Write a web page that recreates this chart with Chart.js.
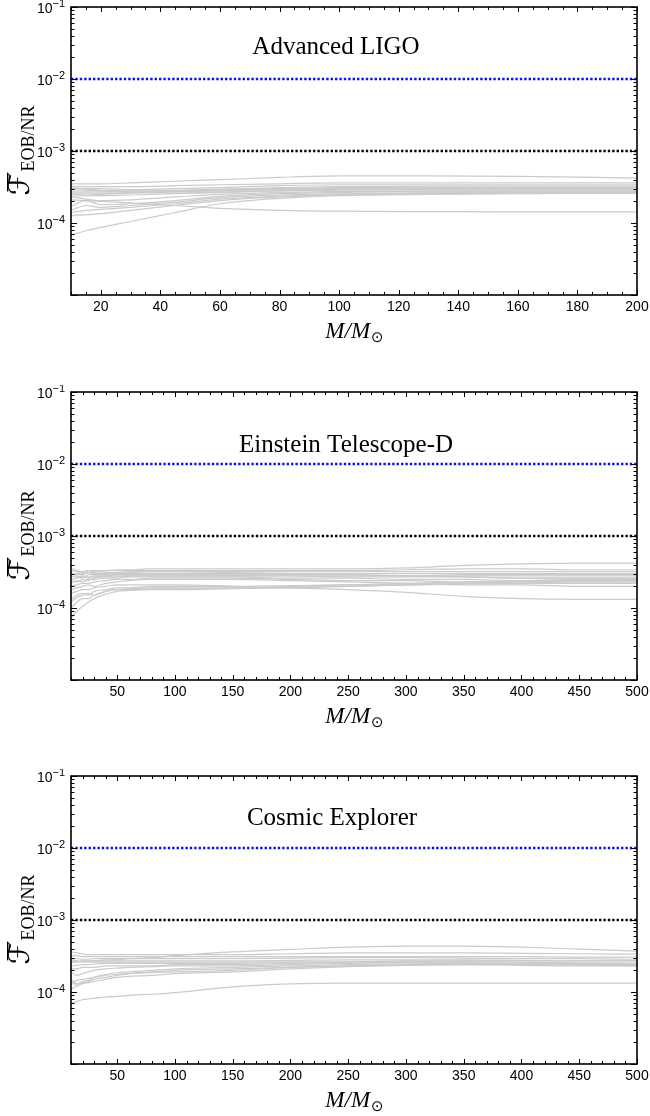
<!DOCTYPE html>
<html>
<head>
<meta charset="utf-8">
<script src="https://cdn.jsdelivr.net/npm/chart.js@4.4.1/dist/chart.umd.min.js"></script>
<style>
  html, body { margin: 0; padding: 0; background: #fff; overflow: hidden; }
  #wrap { position: relative; width: 650px; height: 1116px; overflow: hidden; }
  canvas { position: absolute; left: 0; }
</style>
</head>
<body>
<div id="wrap">
  <canvas id="c1" width="650" height="370" style="top:0px"></canvas>
  <canvas id="c2" width="650" height="370" style="top:385px"></canvas>
  <canvas id="c3" width="650" height="370" style="top:769px"></canvas>
</div>
<script>
// --- data ---
const thresholds = [1e-2, 1e-3];
const thresholdColors = ['#1010f0', '#000000'];

const yTickValues = [1e-4, 1e-3, 1e-2, 1e-1];
const yTickExps = ['\u22124', '\u22123', '\u22122', '\u22121'];

const aligoTicks = [20, 40, 60, 80, 100, 120, 140, 160, 180, 200];
const etTicks = [50, 100, 150, 200, 250, 300, 350, 400, 450, 500];
const ceTicks = [50, 100, 150, 200, 250, 300, 350, 400, 450, 500];

// Advanced LIGO
const aligoMass = [10, 15, 20, 30, 45, 60, 80, 100, 130, 160, 200];
const aligoCurves = [
  [3.5e-4, 3.5e-4, 3.5e-4, 3.6e-4, 3.8e-4, 4.0e-4, 4.3e-4, 4.5e-4, 4.5e-4, 4.45e-4, 4.2e-4],
  [3.2e-4, 3.2e-4, 3.2e-4, 3.2e-4, 3.3e-4, 3.4e-4, 3.5e-4, 3.6e-4, 3.6e-4, 3.6e-4, 3.6e-4],
  [3.0e-4, 3.0e-4, 3.0e-4, 2.9e-4, 3.0e-4, 3.1e-4, 3.3e-4, 3.4e-4, 3.4e-4, 3.4e-4, 3.4e-4],
  [2.9e-4, 2.85e-4, 2.8e-4, 2.8e-4, 2.85e-4, 2.95e-4, 3.1e-4, 3.2e-4, 3.25e-4, 3.25e-4, 3.25e-4],
  [2.7e-4, 2.7e-4, 2.7e-4, 2.75e-4, 2.8e-4, 2.9e-4, 3.0e-4, 3.1e-4, 3.15e-4, 3.15e-4, 3.15e-4],
  [2.6e-4, 2.6e-4, 2.6e-4, 2.65e-4, 2.75e-4, 2.85e-4, 2.95e-4, 3.0e-4, 3.05e-4, 3.05e-4, 3.05e-4],
  [2.5e-4, 2.45e-4, 2.5e-4, 2.6e-4, 2.7e-4, 2.8e-4, 2.9e-4, 2.95e-4, 2.95e-4, 2.95e-4, 2.95e-4],
  [2.35e-4, 2.4e-4, 2.4e-4, 2.45e-4, 2.55e-4, 2.7e-4, 2.8e-4, 2.85e-4, 2.9e-4, 2.9e-4, 2.9e-4],
  [2.1e-4, 2.05e-4, 2.0e-4, 1.9e-4, 1.75e-4, 1.6e-4, 1.5e-4, 1.46e-4, 1.44e-4, 1.43e-4, 1.43e-4],
  [2.3e-4, 2.15e-4, 2.05e-4, 2.1e-4, 2.3e-4, 2.5e-4, 2.65e-4, 2.75e-4, 2.8e-4, 2.8e-4, 2.8e-4],
  [1.7e-4, 2.05e-4, 1.8e-4, 1.85e-4, 2.05e-4, 2.35e-4, 2.55e-4, 2.65e-4, 2.75e-4, 2.75e-4, 2.75e-4],
  [1.5e-4, 1.75e-4, 1.65e-4, 1.75e-4, 1.95e-4, 2.25e-4, 2.45e-4, 2.55e-4, 2.65e-4, 2.7e-4, 2.7e-4],
  [1.4e-4, 1.5e-4, 1.55e-4, 1.65e-4, 1.85e-4, 2.15e-4, 2.35e-4, 2.5e-4, 2.6e-4, 2.65e-4, 2.65e-4],
  [0.68e-4, 0.78e-4, 0.87e-4, 1.05e-4, 1.4e-4, 1.85e-4, 2.2e-4, 2.4e-4, 2.5e-4, 2.55e-4, 2.6e-4],
  [1.28e-4, 1.3e-4, 1.35e-4, 1.5e-4, 1.75e-4, 2.05e-4, 2.3e-4, 2.45e-4, 2.55e-4, 2.6e-4, 2.6e-4],
  [3.1e-4, 2.95e-4, 2.85e-4, 2.7e-4, 2.6e-4, 2.65e-4, 2.8e-4, 2.95e-4, 3.05e-4, 3.1e-4, 3.1e-4]
];

// Einstein Telescope-D
const etMass = [10, 15, 20, 25, 30, 40, 50, 60, 80, 100, 150, 200, 250, 300, 350, 400, 450, 500];
const etCurves = [
  [2.9e-4, 3.0e-4, 3.1e-4, 3.1e-4, 3.2e-4, 3.3e-4, 3.4e-4, 3.4e-4, 3.5e-4, 3.5e-4, 3.5e-4, 3.5e-4, 3.5e-4, 3.6e-4, 3.9e-4, 4.1e-4, 4.2e-4, 4.2e-4],
  [3.6e-4, 3.3e-4, 3.2e-4, 3.3e-4, 3.3e-4, 3.3e-4, 3.3e-4, 3.3e-4, 3.3e-4, 3.3e-4, 3.3e-4, 3.3e-4, 3.3e-4, 3.4e-4, 3.5e-4, 3.5e-4, 3.4e-4, 3.4e-4],
  [3.1e-4, 2.9e-4, 3.0e-4, 3.3e-4, 3.1e-4, 3.0e-4, 3.0e-4, 3.1e-4, 3.2e-4, 3.2e-4, 3.2e-4, 3.2e-4, 3.2e-4, 3.2e-4, 3.2e-4, 3.2e-4, 3.2e-4, 3.2e-4],
  [2.7e-4, 2.8e-4, 2.6e-4, 2.9e-4, 2.9e-4, 2.9e-4, 3.0e-4, 3.0e-4, 3.0e-4, 3.0e-4, 3.0e-4, 3.0e-4, 3.0e-4, 3.0e-4, 3.0e-4, 3.0e-4, 3.0e-4, 3.0e-4],
  [2.5e-4, 2.6e-4, 2.7e-4, 2.6e-4, 2.8e-4, 2.8e-4, 2.9e-4, 2.9e-4, 2.9e-4, 2.9e-4, 2.9e-4, 2.9e-4, 2.9e-4, 2.8e-4, 2.8e-4, 2.8e-4, 2.8e-4, 2.8e-4],
  [2.4e-4, 2.3e-4, 2.5e-4, 2.4e-4, 2.6e-4, 2.7e-4, 2.7e-4, 2.8e-4, 2.8e-4, 2.8e-4, 2.8e-4, 2.8e-4, 2.7e-4, 2.7e-4, 2.7e-4, 2.6e-4, 2.6e-4, 2.6e-4],
  [2.2e-4, 2.4e-4, 2.3e-4, 2.5e-4, 2.5e-4, 2.6e-4, 2.6e-4, 2.7e-4, 2.7e-4, 2.7e-4, 2.7e-4, 2.6e-4, 2.6e-4, 2.5e-4, 2.5e-4, 2.4e-4, 2.4e-4, 2.4e-4],
  [2.0e-4, 2.1e-4, 2.2e-4, 2.2e-4, 2.3e-4, 2.4e-4, 2.5e-4, 2.5e-4, 2.6e-4, 2.6e-4, 2.6e-4, 2.5e-4, 2.4e-4, 2.4e-4, 2.3e-4, 2.3e-4, 2.2e-4, 2.2e-4],
  [1.8e-4, 1.9e-4, 2.0e-4, 2.1e-4, 2.0e-4, 2.2e-4, 2.3e-4, 2.4e-4, 2.5e-4, 2.5e-4, 2.5e-4, 2.4e-4, 2.3e-4, 2.2e-4, 2.1e-4, 2.1e-4, 2.0e-4, 2.0e-4],
  [1.6e-4, 1.7e-4, 1.8e-4, 1.8e-4, 1.9e-4, 2.0e-4, 2.1e-4, 2.1e-4, 2.1e-4, 2.1e-4, 2.0e-4, 1.9e-4, 1.8e-4, 1.65e-4, 1.45e-4, 1.35e-4, 1.32e-4, 1.32e-4],
  [1.3e-4, 1.5e-4, 1.6e-4, 1.5e-4, 1.7e-4, 1.8e-4, 1.9e-4, 1.9e-4, 2.0e-4, 2.0e-4, 2.0e-4, 2.05e-4, 2.1e-4, 2.1e-4, 2.15e-4, 2.2e-4, 2.2e-4, 2.2e-4],
  [1.2e-4, 1.4e-4, 1.5e-4, 1.6e-4, 1.5e-4, 1.7e-4, 1.8e-4, 1.85e-4, 1.9e-4, 1.9e-4, 1.9e-4, 2.0e-4, 2.1e-4, 2.2e-4, 2.3e-4, 2.4e-4, 2.5e-4, 2.5e-4],
  [0.72e-4, 0.9e-4, 1.05e-4, 1.2e-4, 1.35e-4, 1.55e-4, 1.7e-4, 1.75e-4, 1.8e-4, 1.8e-4, 1.85e-4, 1.9e-4, 2.0e-4, 2.1e-4, 2.2e-4, 2.3e-4, 2.3e-4, 2.3e-4],
  [1.0e-4, 1.2e-4, 1.35e-4, 1.35e-4, 1.5e-4, 1.7e-4, 1.8e-4, 1.8e-4, 1.85e-4, 1.85e-4, 1.9e-4, 1.95e-4, 2.0e-4, 2.1e-4, 2.2e-4, 2.3e-4, 2.35e-4, 2.4e-4],
  [3.3e-4, 3.2e-4, 2.9e-4, 3.1e-4, 3.0e-4, 3.1e-4, 3.1e-4, 3.2e-4, 3.2e-4, 3.2e-4, 3.1e-4, 3.0e-4, 2.9e-4, 2.8e-4, 2.7e-4, 2.6e-4, 2.6e-4, 2.6e-4],
  [2.8e-4, 2.7e-4, 2.8e-4, 2.7e-4, 2.7e-4, 2.8e-4, 2.8e-4, 2.8e-4, 2.8e-4, 2.8e-4, 2.8e-4, 2.8e-4, 2.8e-4, 2.8e-4, 2.9e-4, 2.9e-4, 2.9e-4, 2.9e-4]
];

// Cosmic Explorer
const ceMass = [10, 15, 20, 25, 30, 40, 50, 60, 80, 100, 150, 200, 250, 300, 350, 400, 450, 500];
const ceCurves = [
  [2.6e-4, 2.6e-4, 2.7e-4, 2.7e-4, 2.7e-4, 2.8e-4, 2.8e-4, 2.9e-4, 3.0e-4, 3.2e-4, 3.6e-4, 3.9e-4, 4.2e-4, 4.35e-4, 4.35e-4, 4.2e-4, 3.95e-4, 3.7e-4],
  [3.6e-4, 3.5e-4, 3.4e-4, 3.3e-4, 3.3e-4, 3.3e-4, 3.3e-4, 3.3e-4, 3.3e-4, 3.3e-4, 3.3e-4, 3.4e-4, 3.5e-4, 3.5e-4, 3.5e-4, 3.45e-4, 3.4e-4, 3.35e-4],
  [3.2e-4, 3.2e-4, 3.1e-4, 3.1e-4, 3.1e-4, 3.1e-4, 3.1e-4, 3.1e-4, 3.1e-4, 3.1e-4, 3.1e-4, 3.1e-4, 3.1e-4, 3.1e-4, 3.1e-4, 3.1e-4, 3.05e-4, 3.05e-4],
  [2.9e-4, 2.9e-4, 2.85e-4, 2.85e-4, 2.9e-4, 2.9e-4, 2.9e-4, 2.9e-4, 2.9e-4, 2.9e-4, 2.9e-4, 2.95e-4, 3.0e-4, 3.0e-4, 2.95e-4, 2.9e-4, 2.9e-4, 2.85e-4],
  [2.6e-4, 2.65e-4, 2.7e-4, 2.7e-4, 2.7e-4, 2.7e-4, 2.7e-4, 2.7e-4, 2.7e-4, 2.7e-4, 2.7e-4, 2.75e-4, 2.8e-4, 2.8e-4, 2.8e-4, 2.75e-4, 2.7e-4, 2.7e-4],
  [2.3e-4, 2.35e-4, 2.4e-4, 2.4e-4, 2.45e-4, 2.5e-4, 2.5e-4, 2.5e-4, 2.5e-4, 2.5e-4, 2.5e-4, 2.6e-4, 2.6e-4, 2.65e-4, 2.65e-4, 2.6e-4, 2.55e-4, 2.5e-4],
  [1.9e-4, 1.7e-4, 1.8e-4, 1.9e-4, 2.0e-4, 2.1e-4, 2.15e-4, 2.2e-4, 2.25e-4, 2.3e-4, 2.3e-4, 2.4e-4, 2.5e-4, 2.55e-4, 2.55e-4, 2.5e-4, 2.45e-4, 2.45e-4],
  [1.5e-4, 1.3e-4, 1.4e-4, 1.45e-4, 1.6e-4, 1.75e-4, 1.85e-4, 1.9e-4, 2.0e-4, 2.1e-4, 2.2e-4, 2.3e-4, 2.4e-4, 2.45e-4, 2.5e-4, 2.45e-4, 2.4e-4, 2.35e-4],
  [1.4e-4, 1.25e-4, 1.35e-4, 1.4e-4, 1.5e-4, 1.6e-4, 1.7e-4, 1.8e-4, 1.9e-4, 2.0e-4, 2.1e-4, 2.2e-4, 2.3e-4, 2.35e-4, 2.4e-4, 2.35e-4, 2.3e-4, 2.3e-4],
  [1.1e-4, 1.2e-4, 1.3e-4, 1.35e-4, 1.4e-4, 1.5e-4, 1.6e-4, 1.65e-4, 1.7e-4, 1.8e-4, 1.9e-4, 2.1e-4, 2.25e-4, 2.35e-4, 2.4e-4, 2.4e-4, 2.35e-4, 2.3e-4],
  [0.68e-4, 0.74e-4, 0.78e-4, 0.8e-4, 0.82e-4, 0.85e-4, 0.87e-4, 0.9e-4, 0.93e-4, 0.98e-4, 1.18e-4, 1.3e-4, 1.33e-4, 1.33e-4, 1.33e-4, 1.33e-4, 1.33e-4, 1.33e-4],
  [2.1e-4, 2.1e-4, 2.2e-4, 2.2e-4, 2.2e-4, 2.3e-4, 2.3e-4, 2.3e-4, 2.3e-4, 2.4e-4, 2.4e-4, 2.5e-4, 2.6e-4, 2.7e-4, 2.7e-4, 2.7e-4, 2.7e-4, 2.7e-4],
  [1.3e-4, 1.45e-4, 1.5e-4, 1.55e-4, 1.6e-4, 1.7e-4, 1.75e-4, 1.8e-4, 1.85e-4, 1.9e-4, 2.0e-4, 2.2e-4, 2.3e-4, 2.4e-4, 2.45e-4, 2.45e-4, 2.4e-4, 2.4e-4],
  [2.8e-4, 2.7e-4, 2.6e-4, 2.6e-4, 2.6e-4, 2.6e-4, 2.6e-4, 2.6e-4, 2.6e-4, 2.6e-4, 2.6e-4, 2.6e-4, 2.6e-4, 2.55e-4, 2.5e-4, 2.5e-4, 2.5e-4, 2.5e-4]
];

const SANS = '"Liberation Sans", Arial, sans-serif';
const SERIF = '"Liberation Serif", "Times New Roman", serif';

// axes frame, inward ticks, tick labels and texts (matplotlib look)
const framePlugin = {
  id: 'frame',
  afterDraw(chart, args, opts) {
    const { ctx, chartArea: a, scales: { x, y } } = chart;
    ctx.save();
    ctx.strokeStyle = '#000';
    ctx.fillStyle = '#000';

    // x ticks, bottom and top, pointing inward
    ctx.lineWidth = 1;
    ctx.beginPath();
    for (let v = x.min; v <= x.max + 1e-9; v += opts.xMinor) {
      const px = Math.round(x.getPixelForValue(v)) + 0.5;
      const major = opts.xTicks.includes(v);
      const len = major ? 5 : 3;
      ctx.moveTo(px, a.bottom); ctx.lineTo(px, a.bottom - len);
      ctx.moveTo(px, a.top); ctx.lineTo(px, a.top + len);
    }
    // y ticks (log: decades + 2..9)
    for (let e = -5; e <= -1; e++) {
      for (let m = 1; m <= 9; m++) {
        const v = m * Math.pow(10, e);
        if (v > y.max * 1.0001) break;
        const py = Math.round(y.getPixelForValue(v)) + 0.5;
        const len = m === 1 ? 6 : 3.5;
        ctx.moveTo(a.left, py); ctx.lineTo(a.left + len, py);
        ctx.moveTo(a.right, py); ctx.lineTo(a.right - len, py);
      }
    }
    ctx.stroke();

    // frame
    ctx.lineWidth = 1.6;
    ctx.strokeRect(a.left, a.top, a.right - a.left, a.bottom - a.top);

    // y tick labels 10^n
    yTickValues.forEach((v, i) => {
      const py = y.getPixelForValue(v);
      ctx.font = '14px ' + SANS;
      const w10 = ctx.measureText('10').width;
      ctx.font = '11px ' + SANS;
      const wExp = ctx.measureText(yTickExps[i]).width;
      const x0 = a.left - 6 - w10 - wExp;
      ctx.font = '14px ' + SANS;
      ctx.textAlign = 'left';
      ctx.textBaseline = 'alphabetic';
      ctx.fillText('10', x0, py + 6);
      ctx.font = '11px ' + SANS;
      ctx.fillText(yTickExps[i], x0 + w10, py);
    });

    // panel title
    ctx.font = '25px ' + SERIF;
    ctx.textAlign = 'center';
    ctx.fillText(opts.title, opts.titleX, a.top + opts.titleDy);

    // x axis label M/M_sun
    const cx = (a.left + a.right) / 2;
    ctx.font = 'italic 23px ' + SERIF;
    const w1 = ctx.measureText('M/M').width;
    ctx.font = '15px "DejaVu Sans", sans-serif';
    const w2 = ctx.measureText('\u2299').width;
    const xl = cx - (w1 + w2) / 2;
    const base = a.bottom + 43;
    ctx.textAlign = 'left';
    ctx.font = 'italic 23px ' + SERIF;
    ctx.fillText('M/M', xl, base);
    ctx.font = '15px "DejaVu Sans", sans-serif';
    ctx.fillText('\u2299', xl + w1 + 1, base + 4);

    // y axis label  F-bar_EOB/NR
    ctx.save();
    ctx.translate(29, (a.top + a.bottom) / 2);
    ctx.rotate(-Math.PI / 2);
    const fFont = '29px "DejaVu Serif", "DejaVu Sans", serif';
    const sFont = '18px ' + SERIF;
    ctx.font = fFont;
    const wF = ctx.measureText('\u2131').width;
    ctx.font = sFont;
    const wS = ctx.measureText('EOB/NR').width;
    const x0 = -(wF + wS) / 2;
    ctx.font = fFont;
    ctx.fillText('\u2131', x0, 0);
    ctx.fillRect(x0 + 4, -22, wF - 4, 1.4);
    ctx.font = sFont;
    ctx.fillText('EOB/NR', x0 + wF + 1, 5);
    ctx.restore();

    ctx.restore();
  }
};

function makePanel(id, mass, curves, xMax, xTicks, xMinor, title, titleX, titleDy) {
  const datasets = curves.map(c => ({
    data: mass.map((m, i) => ({ x: m, y: c[i] })),
    borderColor: '#cbcbcb',
    borderWidth: 1.2,
    pointRadius: 0,
    cubicInterpolationMode: 'monotone'
  }));
  thresholds.forEach((t, i) => {
    datasets.push({
      data: [{ x: mass[0], y: t }, { x: xMax, y: t }],
      borderColor: thresholdColors[i],
      borderWidth: 2.4,
      borderDash: [2.4, 2],
      pointRadius: 0
    });
  });

  new Chart(document.getElementById(id), {
    type: 'line',
    data: { datasets },
    plugins: [framePlugin],
    options: {
      responsive: false,
      animation: false,
      layout: { padding: { top: 7, right: 13, left: 0, bottom: 0 } },
      plugins: {
        legend: { display: false },
        tooltip: { enabled: false },
        frame: { title, titleX, titleDy, xTicks, xMinor }
      },
      scales: {
        x: {
          type: 'linear',
          min: mass[0],
          max: xMax,
          grid: { display: false, drawTicks: false },
          border: { display: false },
          afterBuildTicks: s => { s.ticks = xTicks.map(v => ({ value: v })); },
          afterFit: s => { s.height = 75; s.paddingLeft = 0; s.paddingRight = 0; },
          ticks: {
            color: '#000',
            font: { size: 14, family: SANS },
            padding: 4,
            maxRotation: 0,
            autoSkip: false
          }
        },
        y: {
          type: 'logarithmic',
          min: 1e-5,
          max: 1e-1,
          grid: { display: false },
          border: { display: false },
          ticks: { display: false },
          afterFit: s => { s.width = 71; s.paddingTop = 0; s.paddingBottom = 0; }
        }
      }
    }
  });
}

makePanel('c1', aligoMass, aligoCurves, 200, aligoTicks, 5, 'Advanced LIGO', 336, 47);
makePanel('c2', etMass, etCurves, 500, etTicks, 10, 'Einstein Telescope-D', 346, 60);
makePanel('c3', ceMass, ceCurves, 500, ceTicks, 10, 'Cosmic Explorer', 332, 49);
</script>
</body>
</html>
